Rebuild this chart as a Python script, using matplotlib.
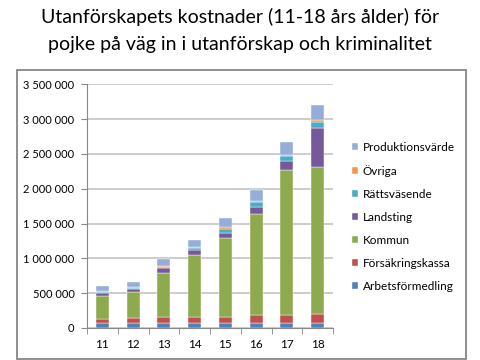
import matplotlib.pyplot as plt
import numpy as np
from matplotlib.patches import Rectangle
from matplotlib.ticker import FuncFormatter

years = ["11", "12", "13", "14", "15", "16", "17", "18"]
arbetsformedling = [65000, 65000, 65000, 65000, 65000, 65000, 65000, 65000]
forsakringskassa = [70000, 72000, 87000, 87000, 97000, 116000, 121000, 130000]
kommun = [330000, 380000, 645000, 895000, 1130000, 1459000, 2089000, 2119000]
landsting = [40000, 40000, 58000, 76000, 72000, 100000, 129000, 559000]
rattsvasende = [15000, 15000, 24000, 24000, 61000, 67000, 67000, 86000]
ovriga = [10000, 12000, 15000, 15000, 22000, 23000, 19000, 29000]
produktionsvarde = [80000, 75000, 100000, 104000, 129000, 154000, 182000, 215000]

series = [
    ("Arbetsförmedling", arbetsformedling, "#4F81BD"),
    ("Försäkringskassa", forsakringskassa, "#C0504D"),
    ("Kommun", kommun, "#8EAA4E"),
    ("Landsting", landsting, "#76599A"),
    ("Rättsväsende", rattsvasende, "#4BACC6"),
    ("Övriga", ovriga, "#F79646"),
    ("Produktionsvärde", produktionsvarde, "#95ADD8"),
]

plt.rcParams["font.family"] = ["Lato", "DejaVu Sans"]

fig = plt.figure(figsize=(4.8, 3.6), dpi=100)
ax = fig.add_axes([87 / 480, 32 / 360, 246 / 480, 243.7 / 360])

x = np.arange(len(years))
bottom = np.zeros(len(years))
handles = []
for name, vals, color in series:
    b = ax.bar(x, vals, 0.42, bottom=bottom, color=color, label=name,
               edgecolor="white", linewidth=0.3, zorder=3)
    handles.append(b)
    bottom += np.array(vals)

ax.set_xlim(-0.5, len(years) - 0.5)
ax.set_ylim(0, 3500000)
ax.set_yticks(np.arange(0, 3500001, 500000))
ax.yaxis.set_major_formatter(FuncFormatter(lambda v, p: f"{int(v):,}".replace(",", " ")))
ax.set_xticks(x)
ax.set_xticklabels(years)
ax.set_xticks(np.arange(-0.5, len(years), 1), minor=True)
ax.tick_params(axis="x", which="major", length=0, labelsize=8.5, pad=8)
ax.tick_params(axis="x", which="minor", length=4, color="#888888", direction="out")
ax.tick_params(axis="y", length=4, color="#888888", labelsize=8, pad=5)

ax.grid(axis="y", color="#BEBEBE", linewidth=1.1, zorder=0)
for s in ["top", "right"]:
    ax.spines[s].set_visible(False)
ax.spines["left"].set_color("#888888")
ax.spines["bottom"].set_color("#888888")

fig.text(0.5, 0.952, "Utanförskapets kostnader (11-18 års ålder) för",
         ha="center", va="center", fontsize=14)
fig.text(0.5, 0.877, "pojke på väg in i utanförskap och kriminalitet",
         ha="center", va="center", fontsize=14)

fig.legend(handles[::-1], [s[0] for s in series][::-1],
           loc="upper left", bbox_to_anchor=(347 / 480, 1 - 137 / 360),
           frameon=False, fontsize=8.5, handlelength=0.55, handleheight=0.55,
           handletextpad=0.4, labelspacing=1.02, borderaxespad=0)

fig.patches.append(Rectangle((17 / 480, 1.5 / 360), 449 / 480, 288.5 / 360,
                             transform=fig.transFigure, fill=False,
                             edgecolor="#868686", linewidth=1.3))

fig.savefig("out.png", dpi=100)
